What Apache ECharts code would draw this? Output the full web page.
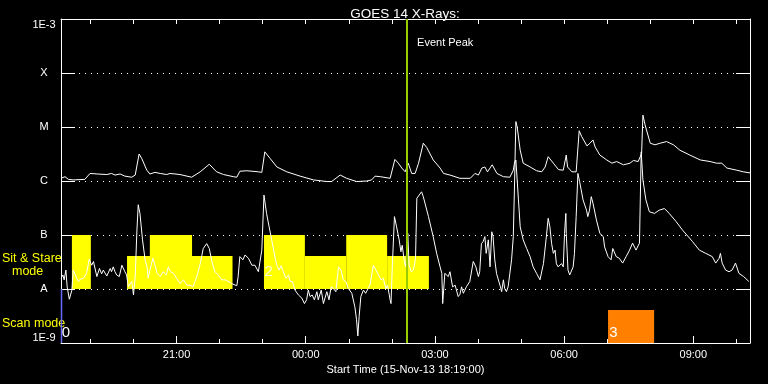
<!DOCTYPE html>
<html><head><meta charset="utf-8">
<script src="https://cdn.jsdelivr.net/npm/echarts@6/dist/echarts.min.js"></script>
<style>html,body{margin:0;padding:0;background:#000}#c{width:768px;height:384px}</style>
</head><body><div id="c"></div>
<script>
// Time in hours relative to 16-Nov-13 00:00 (start 15-Nov-13 18:19:00)
const startH = -5.6833, endH = 10.3167;
const hourTicks = [-5,-4,-3,-2,-1,0,1,2,3,4,5,6,7,8,9,10];
const labelHours = [-3,0,3,6,9];
const hourLabels = ['21:00','00:00','03:00','06:00','09:00'];
// log10 flux levels
const yLevels = [-9,-8,-7,-6,-5,-4,-3];
const yLabels = ['1E-9','A','B','C','M','X','1E-3'];

// GOES 14 long channel (1-8 A), [hour, log10 flux]
const longChannel = [
[-5.68,-5.95],[-5.59,-5.92],[-5.51,-5.97],[-5.40,-5.98],[-5.13,-5.97],[-5.01,-5.86],[-4.85,-5.87],[-4.62,-5.88],[-4.51,-5.86],[-4.43,-5.89],[-4.31,-5.87],[-4.20,-5.91],[-4.04,-5.93],[-3.96,-5.89],[-3.87,-5.50],[-3.81,-5.58],[-3.69,-5.80],[-3.62,-5.87],[-3.50,-5.84],[-3.38,-5.86],[-3.23,-5.88],[-3.15,-5.86],[-2.92,-5.88],[-2.65,-5.93],[-2.45,-5.83],[-2.24,-5.69],[-2.07,-5.83],[-1.91,-5.88],[-1.68,-5.92],[-1.60,-5.93],[-1.53,-5.82],[-1.37,-5.81],[-1.10,-5.83],[-1.06,-5.86],[-1.02,-5.84],[-0.95,-5.46],[-0.83,-5.58],[-0.67,-5.74],[-0.44,-5.83],[-0.13,-5.91],[0.18,-5.98],[0.49,-6.01],[0.60,-6.01],[0.80,-5.89],[0.95,-5.95],[1.18,-6.01],[1.42,-6.00],[1.53,-5.98],[1.61,-5.91],[1.73,-5.92],[1.96,-5.95],[2.07,-5.60],[2.15,-5.67],[2.23,-5.76],[2.31,-5.83],[2.38,-5.67],[2.46,-5.86],[2.54,-5.86],[2.62,-5.67],[2.73,-5.30],[2.81,-5.38],[2.96,-5.61],[3.12,-5.76],[3.20,-5.86],[3.35,-5.89],[3.58,-5.95],
[3.82,-5.95],[3.93,-5.86],[4.01,-5.89],[4.09,-5.76],[4.16,-5.74],[4.22,-5.83],[4.33,-5.70],[4.44,-5.86],[4.59,-5.92],[4.74,-5.93],[4.82,-5.80],[4.86,-5.61],[4.88,-4.90],[4.91,-5.00],[4.98,-5.43],[5.05,-5.67],[5.21,-5.74],[5.36,-5.81],[5.48,-5.83],[5.56,-5.74],[5.63,-5.55],[5.75,-5.67],[5.87,-5.79],[5.98,-5.80],[6.05,-5.52],[6.08,-5.74],[6.18,-5.83],[6.28,-5.83],[6.35,-5.07],[6.41,-5.18],[6.53,-5.35],[6.60,-5.30],[6.67,-5.24],[6.72,-5.37],[6.83,-5.52],[6.99,-5.61],[7.11,-5.67],[7.22,-5.64],[7.38,-5.70],[7.53,-5.67],[7.61,-5.62],[7.72,-5.64],[7.80,-5.49],[7.83,-4.78],[7.88,-4.96],[8.00,-5.30],[8.11,-5.33],[8.23,-5.30],[8.38,-5.27],[8.54,-5.33],[8.69,-5.43],[8.92,-5.52],[9.16,-5.61],[9.39,-5.64],[9.54,-5.67],[9.66,-5.67],[9.78,-5.76],[10.01,-5.80],[10.16,-5.83],[10.32,-5.85]
];

// GOES 14 short channel (0.5-4 A), [hour, log10 flux]
const shortChannel = [
[-5.68,-7.80],[-5.64,-7.74],[-5.61,-7.83],[-5.57,-7.65],[-5.54,-7.96],[-5.49,-8.19],[-5.43,-8.02],[-5.40,-7.65],[-5.36,-7.62],[-5.32,-7.80],[-5.28,-7.86],[-5.24,-7.82],[-5.16,-7.80],[-5.13,-7.82],[-5.09,-7.71],[-5.03,-7.45],[-4.97,-7.56],[-4.93,-7.49],[-4.85,-7.77],[-4.79,-7.62],[-4.74,-7.72],[-4.70,-7.65],[-4.62,-7.76],[-4.54,-7.62],[-4.51,-7.68],[-4.47,-7.59],[-4.43,-7.68],[-4.39,-7.74],[-4.33,-7.77],[-4.27,-7.56],[-4.20,-7.68],[-4.16,-7.74],[-4.12,-7.96],[-4.04,-7.86],[-4.00,-8.11],[-3.96,-7.77],[-3.92,-6.91],[-3.89,-6.44],[-3.85,-6.60],[-3.79,-7.09],[-3.73,-7.46],[-3.68,-7.62],[-3.66,-7.80],[-3.60,-7.59],[-3.55,-7.43],[-3.50,-7.56],[-3.45,-7.71],[-3.38,-7.77],[-3.31,-7.68],[-3.24,-7.74],[-3.19,-7.59],[-3.14,-7.68],[-3.07,-7.71],[-3.00,-7.80],[-2.92,-7.90],[-2.84,-7.83],[-2.76,-7.93],[-2.69,-7.93],[-2.62,-7.96],[-2.57,-7.86],[-2.52,-7.74],[-2.45,-7.53],[-2.38,-7.25],[-2.30,-7.16],[-2.24,-7.25],[-2.18,-7.49],[-2.11,-7.68],[-2.03,-7.74],[-1.95,-7.83],[-1.87,-7.83],[-1.80,-7.86],[-1.72,-7.90],[-1.68,-7.93],[-1.60,-7.94],[-1.57,-7.77],[-1.53,-7.40],[-1.46,-7.46],[-1.41,-7.37],[-1.33,-7.43],[-1.25,-7.56],[-1.18,-7.56],[-1.10,-7.68],[-1.06,-7.65],
[-1.02,-7.28],[-0.97,-6.26],[-0.91,-6.60],[-0.85,-6.85],[-0.79,-7.09],[-0.71,-7.43],[-0.67,-7.56],[-0.62,-7.65],[-0.57,-7.57],[-0.52,-7.68],[-0.46,-7.80],[-0.40,-7.74],[-0.36,-7.86],[-0.31,-7.86],[-0.25,-8.02],[-0.17,-8.11],[-0.09,-8.17],[-0.03,-8.27],[0.02,-8.20],[0.06,-8.02],[0.10,-8.14],[0.15,-8.11],[0.20,-8.20],[0.26,-8.05],[0.29,-8.20],[0.36,-8.02],[0.41,-8.27],[0.49,-8.05],[0.54,-8.20],[0.59,-7.96],[0.64,-7.99],[0.70,-8.05],[0.76,-7.59],[0.82,-7.65],[0.87,-7.83],[0.93,-7.86],[0.99,-7.99],[1.07,-8.08],[1.14,-8.33],[1.18,-8.57],[1.21,-8.87],[1.24,-8.51],[1.28,-8.14],[1.34,-8.02],[1.39,-8.08],[1.45,-7.99],[1.49,-7.93],[1.57,-7.56],[1.63,-7.65],[1.69,-7.74],[1.75,-7.83],[1.80,-7.80],[1.86,-7.99],[1.90,-7.93],[1.96,-8.20],[1.98,-8.27],[2.01,-7.59],[2.06,-6.66],[2.11,-6.85],[2.17,-7.09],[2.21,-7.31],[2.24,-7.19],[2.29,-7.49],[2.32,-7.59],[2.37,-6.97],[2.40,-7.56],[2.45,-7.68],[2.50,-7.65],[2.55,-7.43],[2.58,-6.32],[2.69,-6.20],[2.73,-6.29],[2.85,-6.66],[2.96,-7.03],[3.04,-7.34],[3.12,-7.59],[3.16,-7.71],[3.18,-8.27],[3.23,-7.71],[3.31,-7.77],[3.35,-7.68],[3.41,-7.96],[3.47,-7.93],[3.54,-8.14],[3.58,-8.10],
[3.62,-7.96],[3.66,-8.08],[3.73,-7.96],[3.81,-7.86],[3.89,-7.49],[3.95,-7.59],[4.01,-7.77],[4.04,-7.68],[4.08,-7.16],[4.12,-7.12],[4.16,-7.03],[4.19,-7.34],[4.24,-7.09],[4.28,-7.59],[4.32,-6.94],[4.35,-7.03],[4.39,-7.46],[4.43,-7.71],[4.51,-7.93],[4.55,-8.05],[4.59,-7.83],[4.62,-7.99],[4.66,-8.05],[4.70,-7.96],[4.74,-7.71],[4.78,-7.46],[4.82,-7.03],[4.86,-5.67],[4.88,-5.61],[4.94,-6.35],[4.98,-6.85],[5.05,-7.09],[5.13,-7.25],[5.21,-7.40],[5.28,-7.59],[5.36,-7.71],[5.44,-7.83],[5.52,-7.53],[5.58,-7.09],[5.63,-6.69],[5.67,-6.85],[5.71,-7.16],[5.75,-7.34],[5.79,-7.28],[5.82,-7.53],[5.86,-7.59],[5.90,-7.62],[5.94,-7.53],[5.98,-7.59],[6.01,-6.97],[6.04,-6.60],[6.05,-6.97],[6.09,-7.65],[6.13,-7.74],[6.21,-7.59],[6.24,-7.34],[6.28,-6.66],[6.32,-5.86],[6.36,-6.01],[6.44,-6.35],[6.52,-6.54],[6.55,-6.66],[6.59,-6.54],[6.63,-6.29],[6.67,-6.41],[6.75,-6.72],[6.83,-6.97],[6.91,-7.03],[6.94,-7.22],[7.02,-7.40],[7.09,-7.46],[7.13,-7.25],[7.21,-7.40],[7.28,-7.43],[7.36,-7.52],[7.44,-7.40],[7.52,-7.28],[7.59,-7.15],[7.67,-7.28],[7.75,-7.15],[7.79,-5.46],[7.83,-5.98],[7.90,-6.35],[7.98,-6.57],[8.10,-6.60],[8.21,-6.54],[8.33,-6.51],[8.44,-6.60],[8.60,-6.75],[8.75,-6.91],[8.98,-7.12],[9.14,-7.28],[9.29,-7.34],[9.44,-7.40],[9.52,-7.52],[9.60,-7.43],[9.63,-7.34],[9.67,-7.52],[9.75,-7.65],[9.83,-7.68],[9.90,-7.65],[9.98,-7.52],[10.06,-7.71],[10.17,-7.77],[10.29,-7.86]
];

// Sit & Stare mode blocks: [startHour, endHour, top level]; bottom is A level (-8)
const sitStareBlocks = [[-5.43,-4.99,-7],[-4.15,-1.70,-7.39],[-3.62,-2.64,-7],[-0.97,-0.02,-7],[-0.02,0.94,-7.39],[0.94,1.89,-7],[1.89,2.86,-7.39]];
// Scan mode blocks: [startHour, endHour, top level]; bottom is -9
const scanBlocks = [[7.02,8.09,-8.39]];
// thin blue marker at start: [hour, from level, to level]
const blueMarks = [[startH,-8,-9]];
const eventPeak = 2.345;
// block numbers: [hour, level, text, colour]
const blockLabels = [[-5.665,-8.81,'0','#ffffff'],[-0.955,-7.69,'2','#ffffd8'],[7.05,-8.81,'3','#ffffff']];
const eventLabel = [[2.585,-3.45,'Event Peak']];

const FONT = 'Liberation Sans';
const chart = echarts.init(document.getElementById('c'));

function rectRender(base, color){
  return function(params, api){
    const p0 = api.coord([api.value(0), api.value(2)]);
    const p1 = api.coord([api.value(1), base]);
    return {type:'rect', shape:{x:p0[0], y:p0[1], width:p1[0]-p0[0], height:p1[1]-p0[1]}, style:{fill:color}};
  };
}

chart.setOption({
  backgroundColor:'#000',
  animation:false,
  title:{text:'GOES 14 X-Rays:', left:400, top:2, textAlign:'center',
    textStyle:{color:'#fff', fontSize:13.5, fontWeight:'normal', fontFamily:FONT}},
  grid:{left:61, right:18, top:19, bottom:41},
  xAxis:[
    {type:'value', min:startH, max:endH, position:'bottom',
     axisLine:{onZero:false, lineStyle:{color:'#fff', width:1}},
     axisTick:{inside:true, length:4, customValues:hourTicks, lineStyle:{color:'#fff'}},
     axisLabel:{customValues:labelHours, color:'#fff', fontSize:11, fontFamily:FONT, margin:6,
       formatter:v=>{const i=labelHours.indexOf(Math.round(v)); return i>=0?hourLabels[i]:'';}},
     splitLine:{show:false},
     name:'Start Time (15-Nov-13 18:19:00)', nameLocation:'middle', nameGap:20,
     nameTextStyle:{color:'#fff', fontSize:11, fontFamily:FONT}},
    {type:'value', min:startH, max:endH, position:'bottom',
     axisLine:{show:false, onZero:false},
     axisTick:{inside:true, length:7, customValues:labelHours, lineStyle:{color:'#fff'}},
     axisLabel:{show:false}, splitLine:{show:false}},
    {type:'value', min:startH, max:endH, position:'top',
     axisLine:{onZero:false, lineStyle:{color:'#fff', width:1}},
     axisTick:{inside:true, length:5, customValues:hourTicks, lineStyle:{color:'#fff'}},
     axisLabel:{show:false}, splitLine:{show:false}}
  ],
  yAxis:[
    {type:'value', min:-9, max:-3, interval:1, position:'left',
     axisLine:{onZero:false, lineStyle:{color:'#fff', width:1}},
     axisTick:{inside:true, length:14, lineStyle:{color:'#fff'}},
     axisLabel:{color:'#fff', fontSize:11, fontFamily:FONT, align:'center', margin:17,
       verticalAlignMinLabel:'bottom', verticalAlignMaxLabel:'top',
       formatter:v=>{const i=yLevels.indexOf(Math.round(v)); return i>=0?yLabels[i]:'';}},
     splitLine:{show:true, lineStyle:{color:'#fff', width:1, type:[1,5]}}},
    {type:'value', min:-9, max:-3, interval:1, position:'right',
     axisLine:{onZero:false, lineStyle:{color:'#fff', width:1}},
     axisTick:{inside:true, length:14, lineStyle:{color:'#fff'}},
     axisLabel:{show:false}, splitLine:{show:false}}
  ],
  graphic:[
    {type:'text', left:2, top:252, style:{text:'Sit & Stare', fill:'#ffff00', font:'12.5px '+FONT}},
    {type:'text', left:12, top:265, style:{text:'mode', fill:'#ffff00', font:'12.5px '+FONT}},
    {type:'text', left:2, top:317, style:{text:'Scan mode', fill:'#ffff00', font:'12.5px '+FONT}}
  ],
  series:[
    {type:'custom', name:'Sit & Stare', data:sitStareBlocks, encode:{x:[0,1], y:2}, z:2,
     renderItem:rectRender(-8,'#ffff00')},
    {type:'custom', name:'Scan', data:scanBlocks, encode:{x:[0,1], y:2}, z:2,
     renderItem:rectRender(-9,'#ff8000')},
    {type:'custom', name:'marker', data:blueMarks, encode:{x:0, y:[1,2]}, z:4, clip:false,
     renderItem:function(params, api){
       const a = api.coord([api.value(0), api.value(1)]);
       const b = api.coord([api.value(0), api.value(2)]);
       return {type:'line', shape:{x1:a[0]+0.5, y1:a[1], x2:b[0]+0.5, y2:b[1]}, style:{stroke:'#6a6aff', lineWidth:1.5}};
     }},
    {type:'line', name:'long', data:longChannel, showSymbol:false, z:3,
     lineStyle:{color:'#fff', width:1}, itemStyle:{color:'#fff'},
     markLine:{silent:true, symbol:'none', label:{show:false},
       lineStyle:{color:'#99cc00', width:2, type:'solid'}, data:[{xAxis:eventPeak}]}},
    {type:'line', name:'short', data:shortChannel, showSymbol:false, z:3,
     lineStyle:{color:'#fff', width:1}, itemStyle:{color:'#fff'}},
    {type:'custom', name:'blockLabels', data:blockLabels, encode:{x:0, y:1}, z:5,
     renderItem:function(params, api){
       const d = blockLabels[params.dataIndex];
       const p = api.coord([d[0], d[1]]);
       return {type:'text', x:p[0], y:p[1], style:{text:d[2], fill:d[3], font:'15px '+FONT, align:'left', verticalAlign:'middle'}};
     }},
    {type:'custom', name:'eventLabel', data:eventLabel, encode:{x:0, y:1}, z:5,
     renderItem:function(params, api){
       const d = eventLabel[params.dataIndex];
       const p = api.coord([d[0], d[1]]);
       return {type:'text', x:p[0], y:p[1], style:{text:d[2], fill:'#fff', font:'11px '+FONT, align:'left', verticalAlign:'middle'}};
     }}
  ]
});
</script></body></html>
